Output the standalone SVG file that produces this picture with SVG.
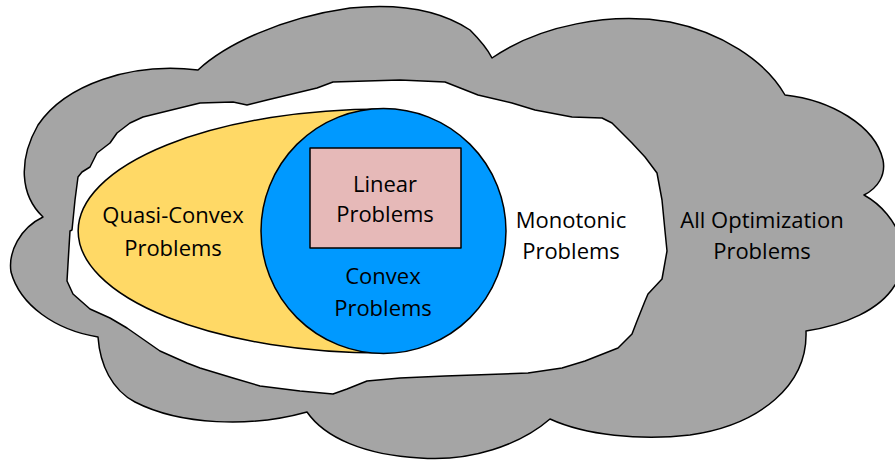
<svg xmlns="http://www.w3.org/2000/svg" width="895" height="462" viewBox="0 0 895 462">
  <style>
    .edge { stroke: #000; stroke-width: 1.5; stroke-linejoin: round; }
    .label { font-family: "Open Sans", "Liberation Sans", sans-serif; font-size: 22px; fill: #000; text-anchor: middle; }
  </style>
  <rect width="895" height="462" fill="#fff"/>

  <!-- Outer cloud: all optimization problems -->
  <g id="all-optimization">
    <path class="edge" fill="#A5A5A5" d="
      M 198 70
      C 225 45, 280 18, 350 8
      C 400 3, 440 10, 470 30
      C 480 40, 488 50, 492 58
      C 540 25, 610 12, 670 22
      C 720 32, 765 60, 785 95
      C 830 100, 875 125, 883 160
      C 886 175, 878 188, 864 195
      C 900 215, 915 260, 895 285
      C 880 310, 845 325, 806 331
      C 808 385, 760 425, 690 435
      C 640 441, 585 435, 550 419
      C 520 445, 470 462, 420 458
      C 365 455, 325 438, 307 412
      C 250 428, 180 425, 135 402
      C 112 390, 100 365, 98 337
      C 55 330, 20 305, 11 272
      C 8 252, 20 228, 43 217
      C 20 195, 18 160, 38 125
      C 65 85, 130 62, 198 70 Z"/>
    <text class="label" x="762" y="228">All Optimization</text>
    <text class="label" x="762" y="259">Problems</text>
  </g>

  <!-- Inner white region: monotonic problems -->
  <g id="monotonic">
    <path class="edge" fill="#fff" d="
      M 445 82 L 478 95 L 512 103 L 535 110 L 572 117 L 602 118 L 612 123
      L 632 143 L 645 157 L 657 173 L 662 200 L 665 231 L 667 251 L 662 279
      L 648 294 L 645 301 L 637 321 L 632 334 L 618 348 L 585 361 L 562 368
      L 528 373 L 445 376 L 400 378 L 367 381 L 347 389 L 333 394 L 300 391
      L 260 386 L 233 378 L 200 368 L 187 363 L 160 351 L 127 328 L 110 318
      L 90 309 L 73 294 L 67 281 L 68 264 L 70 231 L 72 230 L 75 200 L 78 177
      L 82 172 L 90 167 L 97 153 L 110 143 L 117 133 L 130 123 L 143 117
      L 200 103 L 233 102 L 247 105 L 267 100 L 317 88 L 333 82 L 400 80 Z"/>
    <text class="label" x="571" y="228">Monotonic</text>
    <text class="label" x="571" y="259">Problems</text>
  </g>

  <!-- Quasi-convex region -->
  <g id="quasi-convex">
    <path class="edge" fill="#FFD966" d="M 383 109 A 305 122 0 0 0 383 353 Z"/>
    <text class="label" x="173" y="223">Quasi-Convex</text>
    <text class="label" x="173" y="256">Problems</text>
  </g>

  <!-- Convex region -->
  <g id="convex">
    <circle class="edge" cx="383.5" cy="231" r="122.5" fill="#0099FF"/>
    <text class="label" x="383" y="284">Convex</text>
    <text class="label" x="383" y="316">Problems</text>
  </g>

  <!-- Linear problems -->
  <g id="linear">
    <rect class="edge" x="310" y="148" width="151" height="100" fill="#E6B9B8"/>
    <text class="label" x="385" y="192">Linear</text>
    <text class="label" x="385" y="222">Problems</text>
  </g>

  <g id="connectors"/>
</svg>
